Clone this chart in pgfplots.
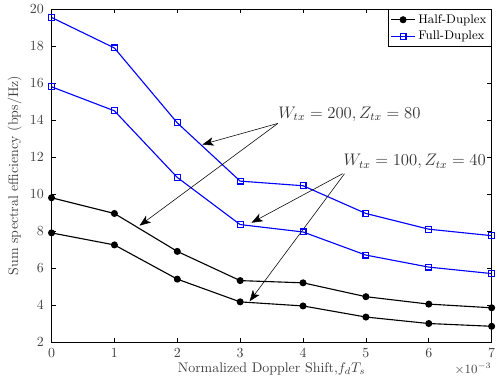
\documentclass[border=0pt]{standalone}
\usepackage{pgfplots}
\pgfplotsset{compat=1.18}
\usetikzlibrary{arrows.meta}
\begin{document}
\begin{tikzpicture}
\begin{axis}[
  scale only axis,
  width=316pt, height=239pt,
  xmin=0, xmax=7, ymin=2, ymax=20,
  xtick={0,1,2,3,4,5,6,7},
  ytick={2,4,6,8,10,12,14,16,18,20},
  tick align=inside,
  tick pos=both,
  tick style={black, thin},
  major tick length=3pt,
  ticklabel style={font=\normalsize, color=black!75},
  yticklabel style={xshift=-2pt},
  xticklabel style={yshift=-1pt},
  xlabel={Normalized Doppler Shift,$f_dT_s$},
  ylabel={Sum spectral efficiency (bps/Hz)},
  label style={font=\normalsize, color=black!75},
  xlabel style={yshift=3pt},
  ylabel style={yshift=-1pt},
  axis line style={black, thin},
  legend style={at={(1,1)}, anchor=north east, font=\small, draw=black, inner sep=1.5pt, row sep=0pt, legend cell align=left},
  clip=false,
]
\addplot[black, line width=0.8pt, mark=*, mark size=2.1pt] coordinates {
(0,9.8) (1,8.95) (2,6.9) (3,5.32) (4,5.2) (5,4.45) (6,4.05) (7,3.85)};
\addlegendentry{Half-Duplex}
\addplot[blue, line width=0.8pt, mark=square, mark size=2.1pt, mark options={line width=0.8pt}] coordinates {
(0,19.55) (1,17.9) (2,13.85) (3,10.7) (4,10.45) (5,8.95) (6,8.1) (7,7.75)};
\addlegendentry{Full-Duplex}
\addplot[blue, line width=0.8pt, mark=square, mark size=2.1pt, mark options={line width=0.8pt}, forget plot] coordinates {
(0,15.8) (1,14.5) (2,10.9) (3,8.35) (4,7.95) (5,6.7) (6,6.05) (7,5.7)};
\addplot[black, line width=0.8pt, mark=*, mark size=2.1pt, forget plot] coordinates {
(0,7.9) (1,7.25) (2,5.4) (3,4.17) (4,3.95) (5,3.35) (6,3.0) (7,2.85)};

\node[anchor=west, font=\large, color=black!80, inner sep=1pt] at (axis cs:3.58,14.31) {$W_{tx}=200, Z_{tx}=80$};
\node[anchor=west, font=\large, color=black!80, inner sep=1pt] at (axis cs:4.62,11.76) {$W_{tx}=100, Z_{tx}=40$};
\draw[-{Stealth[length=8pt,width=6pt,inset=2pt]}, thin] (axis cs:3.6,13.82) -- (axis cs:2.4,12.68);
\draw[-{Stealth[length=8pt,width=6pt,inset=2pt]}, thin] (axis cs:3.6,13.82) -- (axis cs:1.4,8.29);
\draw[-{Stealth[length=8pt,width=6pt,inset=2pt]}, thin] (axis cs:4.63,11.1) -- (axis cs:3.18,8.45);
\draw[-{Stealth[length=8pt,width=6pt,inset=2pt]}, thin] (axis cs:4.66,11.1) -- (axis cs:3.15,4.2);
\node[anchor=north east, font=\small, color=black!75, inner sep=0pt] at ([yshift=-15pt]axis cs:7,2) {$\times10^{-3}$};
\end{axis}
\path ([xshift=-37pt,yshift=-32pt]current axis.south west) rectangle ([xshift=6pt,yshift=6pt]current axis.north east);
\end{tikzpicture}
\end{document}
